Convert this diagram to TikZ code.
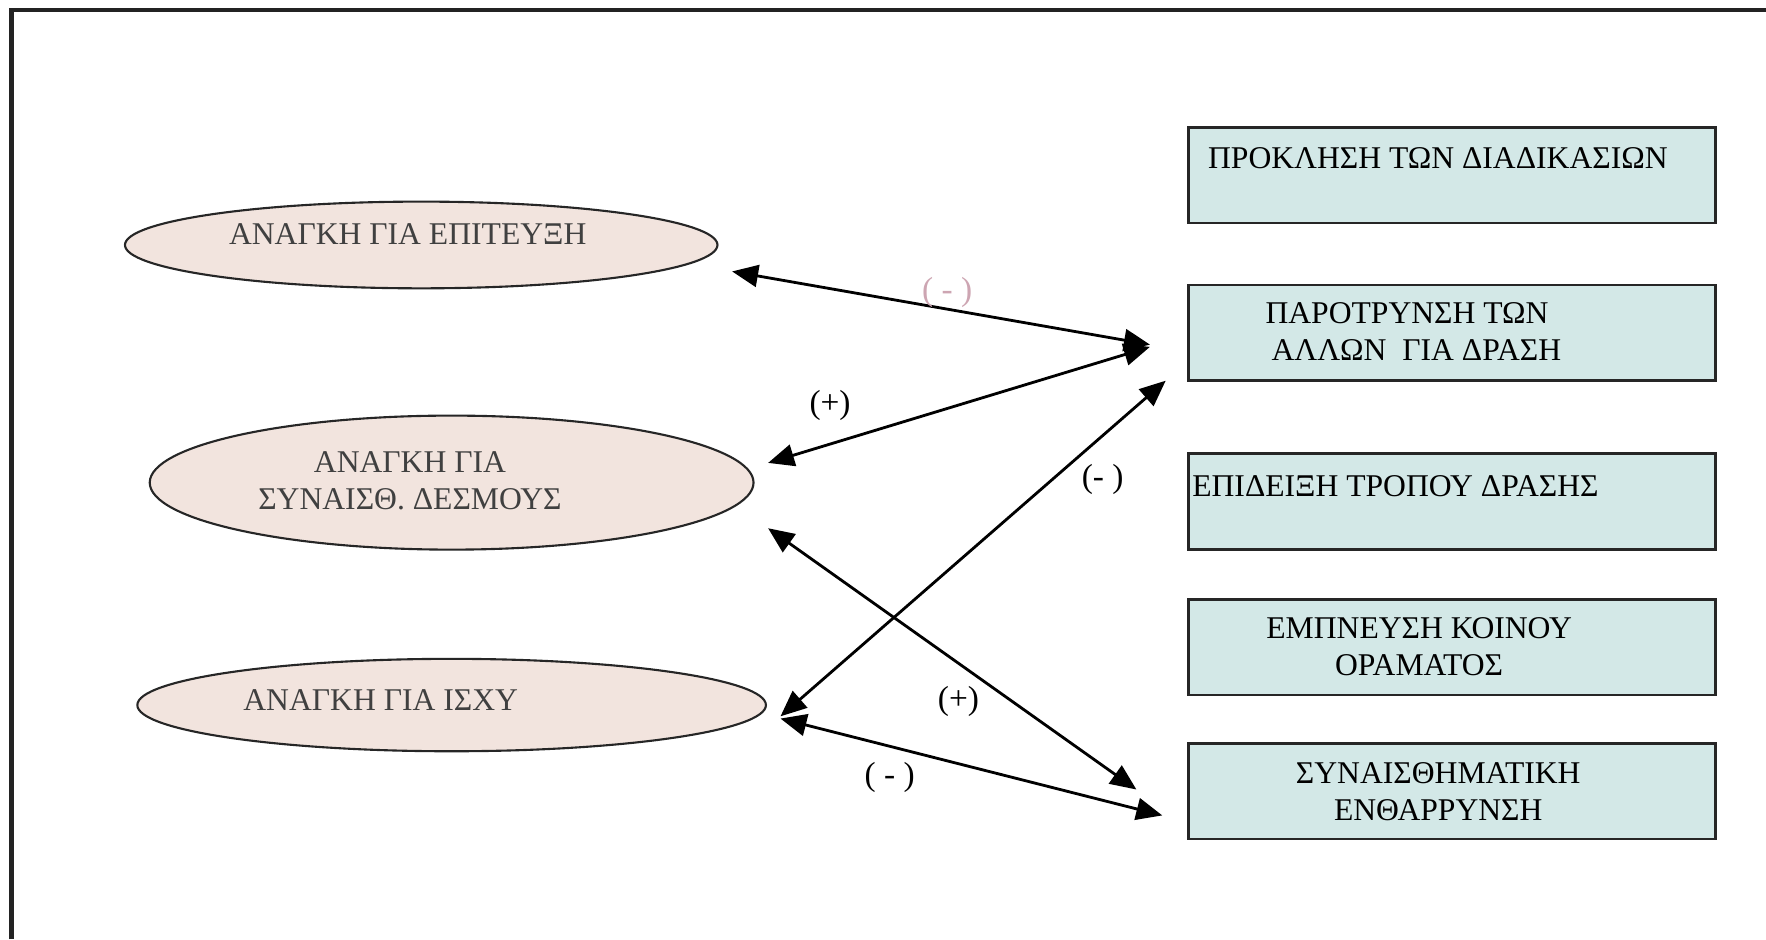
\documentclass[tikz,border=0pt]{standalone}
\usepackage{fontspec}
\setmainfont{Liberation Serif}
\usetikzlibrary{arrows.meta,shapes.geometric}
\definecolor{ellfill}{RGB}{242,228,222}
\definecolor{boxfill}{RGB}{211,232,231}
\definecolor{framec}{RGB}{35,35,35}
\definecolor{pinklbl}{RGB}{205,165,178}
\begin{document}
\begin{tikzpicture}[x=0.011263cm,y=-0.011263cm,
  ell/.style={ellipse,draw=black!85,line width=0.6pt,fill=ellfill,inner sep=0pt},
  box/.style={rectangle,draw=black!85,line width=0.8pt,fill=boxfill,minimum width=5.271cm,minimum height=0.957cm,inner sep=0pt},
  txt/.style={font=\fontsize{9}{10.5}\selectfont,inner sep=0pt,align=center},
  etxt/.style={txt,text=black!75},
  lbl/.style={font=\fontsize{9.5}{11}\selectfont,inner sep=0pt},
  conn/.style={line width=0.8pt,{Triangle[length=2.6mm,width=2.2mm]}-{Triangle[length=2.6mm,width=2.2mm]}}]
\useasboundingbox (0,0) rectangle (1568,834);
\fill[white] (0,0) rectangle (1568,834);
\draw[framec,line width=1.3pt] (10,834) -- (10,9) -- (1568,9);

% ellipses
\node[ell,minimum width=5.924cm,minimum height=0.867cm] (e1) at (374,217.5) {};
\node[ell,minimum width=6.037cm,minimum height=1.340cm] (e2) at (401,428.5) {};
\node[ell,minimum width=6.285cm,minimum height=0.924cm] (e3) at (401,626) {};
\node[etxt] (e1t) at (362,208) {ΑΝΑΓΚΗ ΓΙΑ ΕΠΙΤΕΥΞΗ};
\node[etxt] (e2t) at (364,427) {ΑΝΑΓΚΗ ΓΙΑ\\ΣΥΝΑΙΣΘ. ΔΕΣΜΟΥΣ};
\node[etxt] (e3t) at (338,622) {ΑΝΑΓΚΗ ΓΙΑ ΙΣΧΥ};

% boxes
\node[box] (b1) at (1289,155.5) {};
\node[box] (b2) at (1289,295.5) {};
\node[box] (b3) at (1289,445.5) {};
\node[box] (b4) at (1289,574.5) {};
\node[box] (b5) at (1289,702.5) {};
\node[txt,anchor=west] (b1t) at (1072,140) {ΠΡΟΚΛΗΣΗ ΤΩΝ ΔΙΑΔΙΚΑΣΙΩΝ};
\node[txt,align=left,anchor=west] (b2t) at (1123,294) {ΠΑΡΟΤΡΥΝΣΗ ΤΩΝ\\\hspace*{0.6mm}ΑΛΛΩΝ \ ΓΙΑ ΔΡΑΣΗ};
\node[txt,anchor=west] (b3t) at (1058,432) {ΕΠΙΔΕΙΞΗ ΤΡΟΠΟΥ ΔΡΑΣΗΣ};
\node[txt] (b4t) at (1260,574) {ΕΜΠΝΕΥΣΗ ΚΟΙΝΟΥ\\ΟΡΑΜΑΤΟΣ};
\node[txt] (b5t) at (1277,703) {ΣΥΝΑΙΣΘΗΜΑΤΙΚΗ\\ΕΝΘΑΡΡΥΝΣΗ};

% arrow end points
\coordinate (p1a) at (650,241);
\coordinate (p1b) at (1021,306);
\coordinate (p2a) at (682,411);
\coordinate (p2b) at (1021,308);
\coordinate (p3a) at (693,636);
\coordinate (p3b) at (1035,338);
\coordinate (p4a) at (682,469);
\coordinate (p4b) at (1009,701);
\coordinate (p5a) at (693,638);
\coordinate (p5b) at (1032,724);

\draw[conn] (p1a) -- (p1b);
\draw[conn] (p2a) -- (p2b);
\draw[conn] (p3a) -- (p3b);
\draw[conn] (p4a) -- (p4b);
\draw[conn] (p5a) -- (p5b);

% labels
\node[lbl,text=pinklbl] (l1) at (841,260) {( - )};
\node[lbl] (l2) at (737,360) {(+)};
\node[lbl] (l3) at (979,426) {(- )};
\node[lbl] (l4) at (851,623) {(+)};
\node[lbl] (l5) at (790,690) {( - )};
\end{tikzpicture}
\end{document}
